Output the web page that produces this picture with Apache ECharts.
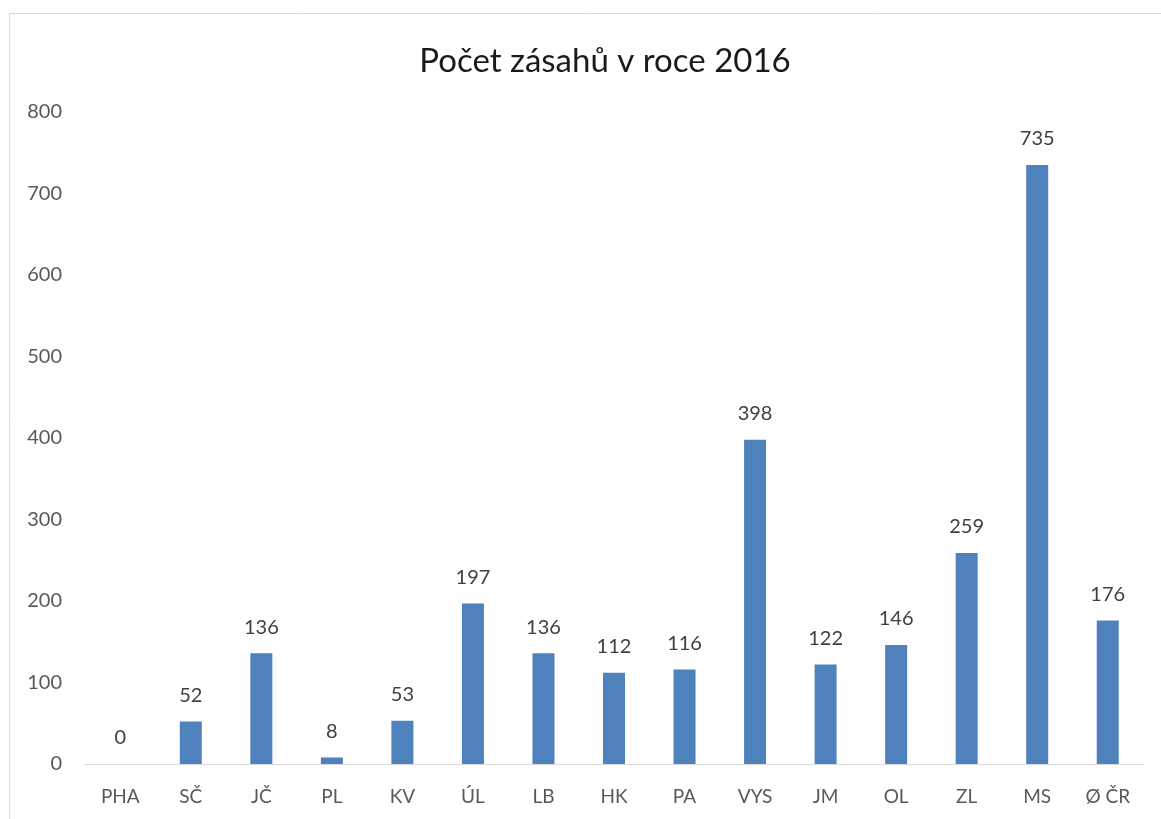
<!DOCTYPE html>
<html>
<head>
<meta charset="utf-8">
<script src="https://cdn.jsdelivr.net/npm/echarts@6/dist/echarts.min.js"></script>
<style>
  html, body { margin: 0; padding: 0; background: #fff; }
  #chart { width: 1161px; height: 819px; }
</style>
</head>
<body>
<div id="chart"></div>
<script>
// Počet zásahů v roce 2016 - bar chart by region
const regions = ['PHA', 'SČ', 'JČ', 'PL', 'KV', 'ÚL', 'LB', 'HK', 'PA', 'VYS', 'JM', 'OL', 'ZL', 'MS', 'Ø ČR'];
const interventions = [0, 52, 136, 8, 53, 197, 136, 112, 116, 398, 122, 146, 259, 735, 176];

const FONT = 'Lato, "Open Sans", sans-serif';

const chart = echarts.init(document.getElementById('chart'));

chart.setOption({
    animation: false,
    title: {
        text: 'Počet zásahů v roce 2016',
        left: 600,
        textAlign: 'center',
        top: 40,
        textStyle: { fontFamily: FONT, fontSize: 33, fontWeight: 'normal', color: '#1a1a1a' }
    },
    graphic: [{
        type: 'rect',
        shape: { x: 9.5, y: 13.5, width: 1300, height: 1000 },
        style: { fill: 'none', stroke: '#d9d9d9', lineWidth: 1 },
        silent: true
    }],
    grid: { left: 85, right: 18, top: 112, bottom: 55 },
    xAxis: {
        type: 'category',
        data: regions,
        axisLine: { lineStyle: { color: '#d9d9d9', width: 1 } },
        axisTick: { show: false },
        axisLabel: { fontFamily: FONT, fontSize: 19, color: '#595959', margin: 23 }
    },
    yAxis: {
        type: 'value',
        min: 0,
        max: 800,
        interval: 100,
        splitLine: { show: false },
        axisLine: { show: false },
        axisTick: { show: false },
        axisLabel: { fontFamily: FONT, fontSize: 20, color: '#595959', margin: 23 }
    },
    series: [{
        type: 'bar',
        data: interventions,
        barWidth: 22,
        itemStyle: { color: '#4f81bd' },
        label: {
            show: true,
            position: 'top',
            distance: 16,
            fontFamily: FONT,
            fontSize: 20,
            color: '#404040'
        }
    }]
});
</script>
</body>
</html>
